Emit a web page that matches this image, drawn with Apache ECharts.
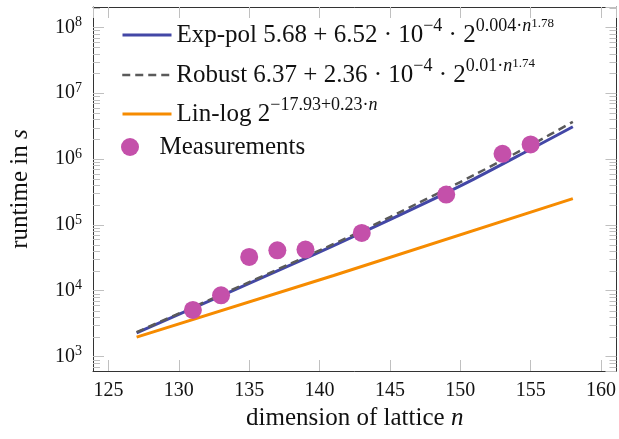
<!DOCTYPE html>
<html>
<head>
<meta charset="UTF-8">
<title>runtime vs lattice dimension</title>
<script src="https://cdn.jsdelivr.net/npm/echarts@6/dist/echarts.min.js"></script>
<style>
  html, body { margin: 0; padding: 0; background: #fff; }
  #chart { width: 619px; height: 439px; }
</style>
</head>
<body>
<div id="chart"></div>
<script>
// fitted curves
const fitN = [127, 131, 135, 139, 143, 147, 151, 155, 158];
const expPol = [2290, 5430, 12900, 30900, 75900, 190500, 501000, 1410000, 3090000];
const robust = [2340, 5620, 13500, 32700, 81300, 214000, 575000, 1620000, 3670000];
const linN = [127, 141, 158];
const linLog = [1970, 17000, 251000];
// measurements
const measN = [131, 133, 135, 137, 139, 143, 149, 153, 155];
const measT = [5100, 8500, 32600, 41000, 42100, 75500, 289000, 1200000, 1670000];

const names = ['Exp-pol', 'Robust', 'Lin-log', 'Measurements'];
const legendText = {
  'Exp-pol': '{m|Exp-pol 5.68 + 6.52 · 10}{s|−4}{m| · 2}{s|0.004·}{si|n}{ss|1.78}',
  'Robust': '{m|Robust 6.37 + 2.36 · 10}{s|−4}{m| · 2}{s|0.01·}{si|n}{ss|1.74}',
  'Lin-log': '{m|Lin-log 2}{t|−17.93+0.23·}{ti|n}',
  'Measurements': '{m|Measurements}'
};
const legendLineWidth = [3, 2.5, 3, 0];

const X_MIN = 123.9, X_MAX = 161.1;
const Y_MIN = 603, Y_MAX = 2.04e8;
const FONT = 'Liberation Serif';
const TICK = '#c0c0c0';

// minor ticks of the log axis (2..9 in each decade)
const minorTicks = [];
for (let e = 2; e <= 8; e++) {
  for (let k = 2; k <= 9; k++) {
    const v = k * Math.pow(10, e);
    if (v > Y_MIN && v < Y_MAX) minorTicks.push([X_MIN, v]);
  }
}

const zip = (a, b) => a.map((x, i) => [x, b[i]]);

const rowY = [35, 75, 114, 147];
const rich = {
  m: { fontFamily: FONT, fontSize: 25, lineHeight: 36, color: '#111' },
  s: { fontFamily: FONT, fontSize: 18, lineHeight: 18, verticalAlign: 'top', color: '#111' },
  si: { fontFamily: FONT, fontSize: 18, lineHeight: 18, verticalAlign: 'top', fontStyle: 'italic', color: '#111' },
  ss: { fontFamily: FONT, fontSize: 13, lineHeight: 7, verticalAlign: 'top', color: '#111' },
  t: { fontFamily: FONT, fontSize: 18, lineHeight: 22, verticalAlign: 'top', color: '#111' },
  ti: { fontFamily: FONT, fontSize: 18, lineHeight: 22, verticalAlign: 'top', fontStyle: 'italic', color: '#111' }
};

const chart = echarts.init(document.getElementById('chart'));

const xBase = {
  type: 'value', min: X_MIN, max: X_MAX, splitNumber: 7,
  axisLine: { show: true, onZero: false, lineStyle: { color: '#333', width: 1 } },
  axisTick: { show: true, inside: true, length: 11, lineStyle: { color: TICK } },
  splitLine: { show: false }
};
const yBase = {
  type: 'log', logBase: 10, min: Y_MIN, max: Y_MAX,
  axisLine: { show: true, onZero: false, lineStyle: { color: '#333', width: 1 } },
  axisTick: { show: true, inside: true, length: 11, lineStyle: { color: TICK } },
  splitLine: { show: false }
};

chart.setOption({
  backgroundColor: '#fff',
  animation: false,
  grid: { left: 93, right: 2, top: 7, bottom: 68 },
  xAxis: [
    Object.assign({}, xBase, {
      position: 'bottom',
      name: '{a|dimension of lattice }{i|n}',
      nameLocation: 'middle', nameGap: 29,
      nameTextStyle: { rich: {
        a: { fontFamily: FONT, fontSize: 25, color: '#111' },
        i: { fontFamily: FONT, fontSize: 25, fontStyle: 'italic', color: '#111' } } },
      axisLabel: { show: true, margin: 10, fontFamily: FONT, fontSize: 20, color: '#111',
        showMinLabel: false, showMaxLabel: false }
    }),
    Object.assign({}, xBase, { position: 'top', axisLabel: { show: false } })
  ],
  yAxis: [
    Object.assign({}, yBase, {
      position: 'left',
      name: '{a|runtime in }{i|s}',
      nameLocation: 'middle', nameGap: 60,
      nameTextStyle: { rich: {
        a: { fontFamily: FONT, fontSize: 25, color: '#111' },
        i: { fontFamily: FONT, fontSize: 25, fontStyle: 'italic', color: '#111' } } },
      axisLabel: {
        show: true, margin: 11, showMinLabel: false, showMaxLabel: false,
        formatter: v => '{b|10}{e|' + Math.round(Math.log10(v)) + '}',
        rich: {
          b: { fontFamily: FONT, fontSize: 20, lineHeight: 24, color: '#111' },
          e: { fontFamily: FONT, fontSize: 14, lineHeight: 14, verticalAlign: 'top', color: '#111' }
        }
      }
    }),
    Object.assign({}, yBase, { position: 'right', axisLabel: { show: false } })
  ],
  legend: names.map((nm, i) => {
    const lg = {
      data: [nm],
      orient: 'vertical',
      left: 121,
      top: rowY[i] - 18,
      padding: 0,
      itemWidth: 49,
      itemHeight: i < 3 ? 8 : 18,
      selectedMode: false,
      formatter: n => legendText[n],
      textStyle: { fontFamily: FONT, fontSize: 25, lineHeight: 36, color: '#111', rich: rich }
    };
    if (i < 3) {
      // line rows: hide the marker, keep the line sample
      lg.itemStyle = { opacity: 0 };
      lg.lineStyle = { width: legendLineWidth[i] };
    }
    return lg;
  }),
  series: [
    {
      type: 'custom', name: 'minor', silent: true, z: 1,
      data: minorTicks,
      renderItem: (params, api) => {
        const y = Math.round(api.coord([X_MIN, api.value(1)])[1]) + 0.5;
        const cs = params.coordSys;
        const st = { stroke: TICK, lineWidth: 1 };
        return { type: 'group', children: [
          { type: 'line', shape: { x1: cs.x, y1: y, x2: cs.x + 7, y2: y }, style: st },
          { type: 'line', shape: { x1: cs.x + cs.width - 7, y1: y, x2: cs.x + cs.width, y2: y }, style: st }
        ] };
      }
    },
    {
      name: 'Exp-pol', type: 'line', symbol: 'none', z: 3, smooth: 0.3,
      data: zip(fitN, expPol),
      lineStyle: { color: '#4347a6', width: 3 }, itemStyle: { color: '#4347a6' }
    },
    {
      name: 'Robust', type: 'line', symbol: 'none', z: 4, smooth: 0.3,
      data: zip(fitN, robust),
      lineStyle: { color: '#5a5a5a', width: 2.5, type: [8, 5] }, itemStyle: { color: '#5a5a5a' }
    },
    {
      name: 'Lin-log', type: 'line', symbol: 'none', z: 3,
      data: zip(linN, linLog),
      lineStyle: { color: '#f68b00', width: 3 }, itemStyle: { color: '#f68b00' }
    },
    {
      name: 'Measurements', type: 'scatter', symbol: 'circle', symbolSize: 18, z: 5,
      data: zip(measN, measT),
      itemStyle: { color: '#c450aa', opacity: 1 }
    }
  ]
});
</script>
</body>
</html>
